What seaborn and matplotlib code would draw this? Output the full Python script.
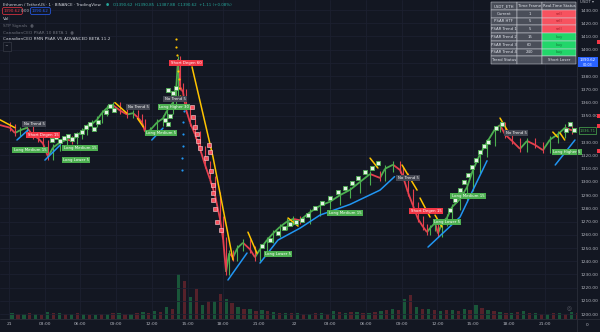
import matplotlib
matplotlib.use("Agg")
import numpy as np
import pandas as pd
import matplotlib.pyplot as plt
import seaborn as sns
from matplotlib.patches import Rectangle
from matplotlib.collections import LineCollection

BG = "#131722"
sns.set_theme(style="dark", rc={"axes.facecolor": BG, "figure.facecolor": BG})
plt.rcParams['font.family'] = ['DejaVu Sans']

# ---------------- data (hours since day 21 00:00, price USDT) ----------------
price_t = [-0.76, 0.08, 0.5, 0.92, 1.51, 2.02, 2.45, 2.86, 3.28, 3.70, 4.3, 4.87, 5.3, 5.71,
           6.13, 6.55, 7.0, 7.39, 7.8, 8.24, 8.74, 9.33, 9.92, 10.42, 10.8, 11.18, 11.43, 11.85,
           12.44, 12.94, 13.28, 13.78, 14.03, 14.2, 14.37, 14.62, 14.87, 15.21, 15.63, 16.05,
           16.47, 16.89, 17.31, 17.73, 18.0, 18.24, 18.5, 18.82, 19.2, 19.66, 20.25, 20.67,
           21.09, 21.68, 22.18, 22.77, 23.36, 23.87, 24.45, 25.29, 26.13, 26.97, 27.82, 28.66,
           29.5, 30.34, 31.18, 31.6, 32.27, 32.86, 33.11, 33.53, 33.95, 34.37, 34.79, 35.13,
           35.38, 35.8, 36.05, 36.39, 36.81, 37.23, 37.9, 38.49, 38.99, 39.58, 40.17, 40.84,
           41.26, 41.68, 42.27, 42.94, 43.53, 44.2, 44.87, 45.46, 46.13, 46.72, 47.31]
price_p = [1343, 1341, 1337, 1339, 1341, 1335, 1333, 1329, 1319, 1326, 1330, 1332, 1331, 1335,
           1338, 1341, 1344, 1347, 1352, 1356, 1358, 1354, 1351, 1352, 1349, 1345, 1338, 1339,
           1345, 1348, 1354, 1360, 1367, 1393, 1372, 1368, 1355, 1345, 1336, 1325,
           1313, 1302, 1290, 1272, 1256, 1232, 1246, 1243, 1250, 1254, 1249, 1243,
           1249, 1256, 1261, 1266, 1270, 1272, 1271, 1277, 1282, 1285, 1290, 1294,
           1300, 1306, 1303, 1310, 1313, 1309, 1304, 1292, 1282, 1272, 1266, 1262,
           1265, 1269, 1261, 1269, 1273, 1281, 1287, 1296, 1309, 1321, 1330, 1340,
           1343, 1336, 1331, 1325, 1331, 1328, 1324, 1332, 1336, 1341, 1339]

# yellow PSAR (above price) segments
psar_dn_t = [-0.76, 0.5, 8.9, 9.9, 10.8, 11.3, 15.38, 17.14, 18.82, 20.08, 20.84,
             23.45, 24.29, 30.34, 31.0, 33.03, 34.29, 34.54, 35.38, 35.8, 36.39,
             41.26, 42.1, 45.7, 46.1, 46.3, 46.7]
psar_dn_p = [1347, 1341, 1360, 1352, 1348, 1341.5, 1387, 1319, 1241, 1262, 1246,
             1272.7, 1266.6, 1318, 1310.5, 1312.8, 1293.8, 1287.8, 1273.4, 1274.9, 1265.9,
             1348.3, 1335.5, 1337.7, 1333.9, 1337, 1331.7]
psar_dn_seg = [1, 1, 2, 2, 3, 3, 4, 4, 4, 5, 5, 6, 6, 7, 7, 8, 8, 9, 9, 10, 10,
               11, 11, 12, 12, 13, 13]

# blue PSAR (below price) segments
psar_up_t = [0.67, 1.6, 3.02, 4.3, 12.0, 12.94, 18.4, 20.0, 21.09, 22.6, 24.45, 26.13,
             28.66, 31.18, 32.4, 35.21, 37.9, 40.17, 45.9, 47.56]
psar_up_p = [1331.7, 1339.2, 1316.5, 1327.9, 1331.7, 1340.7, 1225.8, 1246.2, 1238.6, 1256,
             1265, 1274.9, 1283, 1293.8, 1304, 1250.7, 1273.4, 1316, 1312.8, 1331.7]
psar_up_seg = [1, 1, 2, 2, 3, 3, 4, 4, 5, 5, 5, 5, 5, 5, 5, 6, 6, 6, 7, 7]

# PSAR dots at the 14:00 spike
dot_dn_t = [14.03, 14.07, 14.12, 14.16, 14.2, 14.25, 14.3, 14.37]
dot_dn_p = [1408, 1402, 1396, 1390, 1384, 1378, 1371, 1365]
dot_up_t = [14.52, 14.55, 14.58, 14.61, 14.64, 14.67, 14.7]
dot_up_p = [1309, 1318, 1327, 1336, 1345, 1354, 1363]

# signal labels
label_t = [2.1, 2.86, 1.76, 5.97, 5.63, 10.84, 12.77, 13.87, 13.95, 14.87, 22.6, 28.24,
           33.53, 35.04, 38.57, 36.8, 42.6, 46.9]
label_p = [1343.8, 1335.5, 1324.1, 1325.6, 1316.5, 1356.6, 1337.0, 1356.6, 1362.7, 1389.9,
           1245.4, 1276.4, 1302.9, 1278.0, 1289.3, 1269.6, 1337.0, 1322.6]
label_text = ["No Trend 5", "Short Degen 15", "Long Medium 15", "Long Medium 15", "Long Lower 5",
              "No Trend 5", "Long Medium 5", "Long Higher 30", "No Trend 5", "Short Degen 60",
              "Long Lower 5", "Long Medium 15", "No Trend 5", "Short Degen 15", "Long Medium 15",
              "Long Lower 5", "No Trend 5", "Long Higher 5"]
label_kind = ["none", "short", "long", "long", "long", "none", "long", "long", "none", "short",
              "long", "long", "none", "short", "long", "long", "none", "long"]

# small sell flags during the crash
sell_t = [15.38, 15.46, 15.63, 15.80, 15.88, 16.05, 16.55, 16.81, 16.89, 16.97, 17.14, 17.14,
          17.14, 17.31, 17.48, 17.82]
sell_p = [1356.6, 1349.1, 1341.5, 1336.2, 1330.9, 1325.6, 1318.1, 1327.9, 1322.6, 1308.2,
          1297.6, 1291.6, 1286.3, 1279.5, 1269.6, 1263.6]

# small buy flags along the rallies
buy_t = [3.61, 3.95, 4.29, 4.62, 4.96, 5.29, 5.63, 6.13, 6.47, 6.81, 7.14, 7.48, 8.15, 8.49,
         8.82, 13.11, 13.53, 13.36, 13.36, 13.78, 14.03, 21.26, 21.93, 22.6, 23.1, 23.6, 24.1,
         24.6, 25.13, 25.71, 26.3, 26.97, 27.65, 28.24, 28.82, 29.33, 29.92, 30.5, 31.0,
         37.06, 37.48, 37.9, 38.24, 38.57, 38.9, 39.24, 39.58, 39.92, 40.25, 40.92, 41.43,
         46.8, 47.14, 47.48]
buy_p = [1331.7, 1333.9, 1330.9, 1333.2, 1334.7, 1332.4, 1335.5, 1337.7, 1341.5, 1343.8,
         1340.0, 1345.3, 1352.8, 1357.4, 1354.4, 1346.8, 1349.8, 1343.8, 1369.5, 1367.2, 1371.0,
         1251.5, 1256.0, 1261.3, 1265.1, 1268.1, 1269.6, 1271.2, 1274.9, 1280.2, 1284.0,
         1287.8, 1292.3, 1295.4, 1299.1, 1302.9, 1307.5, 1310.5, 1314.3,
         1278.7, 1286.3, 1293.8, 1299.9, 1305.2, 1311.2, 1316.5, 1322.6, 1327.1, 1330.2,
         1340.7, 1343.8, 1339.2, 1343.8, 1339.2]

# hourly volume (relative)
vol_hours = list(range(48))
vol_up = [6, 5, 5, 7, 6, 5, 5, 4, 5, 6, 5, 7, 8, 12, 45, 22, 14, 18, 20, 12, 10, 9, 7, 6,
          6, 5, 6, 8, 6, 7, 6, 8, 10, 20, 12, 10, 8, 9, 10, 14, 9, 7, 6, 8, 6, 5, 6, 7]
vol_down = [5, 6, 4, 6, 5, 6, 4, 5, 6, 5, 6, 6, 7, 10, 38, 30, 18, 25, 16, 10, 8, 8, 6, 6,
            5, 6, 5, 7, 7, 6, 7, 9, 9, 24, 10, 9, 9, 8, 9, 11, 8, 6, 7, 6, 5, 6, 5, 6]

tick_hours = list(range(0, 46, 3))
tick_labels = ["21", "03:00", "06:00", "09:00", "12:00", "15:00", "18:00", "21:00",
               "22", "03:00", "06:00", "09:00", "12:00", "15:00", "18:00", "21:00"]
price_ticks = list(range(1200, 1440, 10))
hidden_ticks = [1390, 1340]

table_rows = [["USDT_ETH", "Time Frame", "Real-Time Status"],
              ["Current", "1", "sell"],
              ["PSAR HTF", "5", "sell"],
              ["PSAR Trend 1", "5", "sell"],
              ["PSAR Trend 2", "15", "buy"],
              ["PSAR Trend 3", "60", "buy"],
              ["PSAR Trend 4", "240", "buy"],
              ["Trend Status", "", "Short Loser"]]

# ---------------- figure ----------------
W, H = 600, 332
fig = plt.figure(figsize=(6, 3.32), dpi=100)
pos = [0, (H - 319) / H, 577 / W, 319 / H]
ax_vol = fig.add_axes(pos, zorder=0)
ax = fig.add_axes(pos, zorder=1)
ax.patch.set_alpha(0)

XL = (-0.756, 47.73)
YL = (1196.3, 1437.6)

# volume
ax_vol.set_facecolor(BG)
ax_vol.bar(np.array(vol_hours) + 0.25, vol_up, width=0.28, color="#1e8a4c", alpha=0.55, linewidth=0)
ax_vol.bar(np.array(vol_hours) + 0.75, vol_down, width=0.28, color="#8e2a31", alpha=0.55, linewidth=0)
ax_vol.set_xlim(*XL)
ax_vol.set_ylim(0, 320)
ax_vol.set_xticks([]); ax_vol.set_yticks([])
for s in ax_vol.spines.values():
    s.set_visible(False)

# grid
ax.set_xlim(*XL); ax.set_ylim(*YL)
ax.set_xticks(tick_hours)
ax.set_xticklabels(tick_labels)
ax.set_yticks(price_ticks)
ax.set_yticklabels(["" if v in hidden_ticks else f"{v:.2f}" for v in price_ticks])
ax.yaxis.tick_right()
ax.tick_params(axis="both", length=0, labelsize=3.2, colors="#b2b5be")
ax.tick_params(axis="x", pad=2.5)
ax.tick_params(axis="y", pad=2.2)
ax.grid(True, color="#1c2030", linewidth=0.6)
for s in ax.spines.values():
    s.set_visible(False)

# candles as direction-coloured path
pts = np.column_stack([price_t, price_p])
segs = np.stack([pts[:-1], pts[1:]], axis=1)
cols = ["#4caf50" if b >= a else "#e5404e" for a, b in zip(price_p[:-1], price_p[1:])]
ax.add_collection(LineCollection(segs, colors=cols, linewidths=1.3, zorder=3))
ax.vlines(price_t[1:], np.minimum(price_p[:-1], price_p[1:]) - 2.5,
          np.maximum(price_p[:-1], price_p[1:]) + 2.5, colors=cols, linewidth=0.8, zorder=3)

# PSAR lines
dn = pd.DataFrame({"t": psar_dn_t, "p": psar_dn_p, "seg": psar_dn_seg})
up = pd.DataFrame({"t": psar_up_t, "p": psar_up_p, "seg": psar_up_seg})
sns.lineplot(data=dn, x="t", y="p", units="seg", estimator=None, color="#ffc400",
             linewidth=1.1, ax=ax, zorder=4, sort=False)
sns.lineplot(data=up, x="t", y="p", units="seg", estimator=None, color="#2196f3",
             linewidth=1.1, ax=ax, zorder=4, sort=False)
sns.scatterplot(x=dot_dn_t, y=dot_dn_p, color="#ffc400", s=2.5, linewidth=0, ax=ax, zorder=4)
sns.scatterplot(x=dot_up_t, y=dot_up_p, color="#2196f3", s=2.5, linewidth=0, ax=ax, zorder=4)

# flags
sns.scatterplot(x=buy_t, y=buy_p, marker="s", s=9, facecolor="#e3f2e4", edgecolor="#4caf50",
                linewidth=0.6, ax=ax, zorder=5)
sns.scatterplot(x=sell_t, y=sell_p, marker="s", s=10, facecolor="#f7525f", edgecolor="#ffd6d9",
                linewidth=0.4, ax=ax, zorder=5)
ax.set_xlabel(""); ax.set_ylabel("")

kind_bg = {"none": "#434651", "short": "#f23645", "long": "#4caf50"}
for t, p, txt, k in zip(label_t, label_p, label_text, label_kind):
    ax.text(t, p, txt, fontsize=2.8, color="white", ha="center", va="center", zorder=6,
            bbox=dict(boxstyle="square,pad=0.35", fc=kind_bg[k], ec="none"))

# ---------------- overlays in figure pixels ----------------
def fx(x): return x / W
def fy(y): return 1 - y / H

def frect(x0, y0, x1, y1, fc, ec="none", lw=0.5, z=10):
    fig.add_artist(Rectangle((fx(x0), fy(y1)), (x1 - x0) / W, (y1 - y0) / H,
                             transform=fig.transFigure, facecolor=fc, edgecolor=ec,
                             linewidth=lw, zorder=z))

# axis separators
fig.add_artist(plt.Line2D([fx(577), fx(577)], [0, 1], color="#2a2e39", lw=0.6, transform=fig.transFigure))
fig.add_artist(plt.Line2D([0, 1], [fy(319), fy(319)], color="#2a2e39", lw=0.6, transform=fig.transFigure))

# header
fig.text(fx(3), fy(5), "Ethereum / TetherUS · 1 · BINANCE · TradingView", fontsize=2.9,
         color="#d1d4dc", va="center")
fig.text(fx(106), fy(5), "●", fontsize=2.6, color="#26a69a", va="center")
fig.text(fx(113), fy(5), "O1390.62  H1390.85  L1387.88  C1390.62  +1.11 (+0.08%)", fontsize=2.9,
         color="#26a69a", va="center")
fig.text(fx(4), fy(11), "1390.62", fontsize=3.0, color="#f23645", va="center",
         bbox=dict(boxstyle="round,pad=0.35", fc=BG, ec="#f23645", lw=0.5))
fig.text(fx(21), fy(11), "0.00", fontsize=3.0, color="#b2b5be", va="center")
fig.text(fx(32), fy(11), "1390.62", fontsize=3.0, color="#2962ff", va="center",
         bbox=dict(boxstyle="round,pad=0.35", fc=BG, ec="#2962ff", lw=0.5))
fig.text(fx(3), fy(19), "Vol", fontsize=3.2, color="#d1d4dc", va="center")
fig.text(fx(3), fy(25.5), "STP Signals  ◉", fontsize=3.1, color="#6a6d78", va="center")
fig.text(fx(3), fy(32.5), "CanadianCEO PSAR 10 BETA 1  ◉", fontsize=3.1, color="#6a6d78", va="center")
fig.text(fx(3), fy(39.5), "CanadianCEO RMN PSAR V5 ADVANCED BETA 11.2", fontsize=3.1,
         color="#d1d4dc", va="center")
fig.text(fx(5), fy(46.5), "^", fontsize=3.2, color="#b2b5be", va="center",
         bbox=dict(boxstyle="square,pad=0.5", fc=BG, ec="#363a45", lw=0.5))

# table
col_x = [491, 517, 542, 576]
row_h = 7.75
for r, row in enumerate(table_rows):
    y0 = 2 + r * row_h
    for c, txt in enumerate(row):
        fc, tc = "#4a4e59", "#e0e3eb"
        if c == 2 and txt == "sell":
            fc, tc = "#f7525f", "#a01e28"
        elif c == 2 and txt == "buy":
            fc, tc = "#22d66a", "#157a3a"
        frect(col_x[c], y0, col_x[c + 1], y0 + row_h, fc, ec="#d1d4dc", lw=0.35)
        fig.text(fx((col_x[c] + col_x[c + 1]) / 2), fy(y0 + row_h / 2), txt, fontsize=2.8,
                 color=tc, ha="center", va="center", zorder=11)

# price-scale badges
fig.text(fx(580), fy(2), "USDT ▾", fontsize=2.8, color="#b2b5be", va="center")
frect(578, 57, 598, 67, "#2962ff", z=12)
fig.text(fx(588), fy(60), "1390.62", fontsize=2.8, color="white", ha="center", va="center", zorder=13)
fig.text(fx(588), fy(64.5), "00:03", fontsize=2.4, color="white", ha="center", va="center", zorder=13)
frect(579, 127, 596, 134, BG, ec="#4caf50", z=12)
fig.text(fx(587.5), fy(130.5), "1336.71", fontsize=2.8, color="#4caf50", ha="center", va="center", zorder=13)
for yy in (42, 116, 126, 151):
    frect(597, yy - 2, 600, yy + 2, "#f23645", z=12)
fig.text(fx(587), fy(325.5), "0", fontsize=3.2, color="#b2b5be", ha="center", va="center")
fig.text(fx(569), fy(308.5), "◎", fontsize=4, color="#5d606b", ha="center", va="center")

fig.savefig("out.png", dpi=100, facecolor=BG)
